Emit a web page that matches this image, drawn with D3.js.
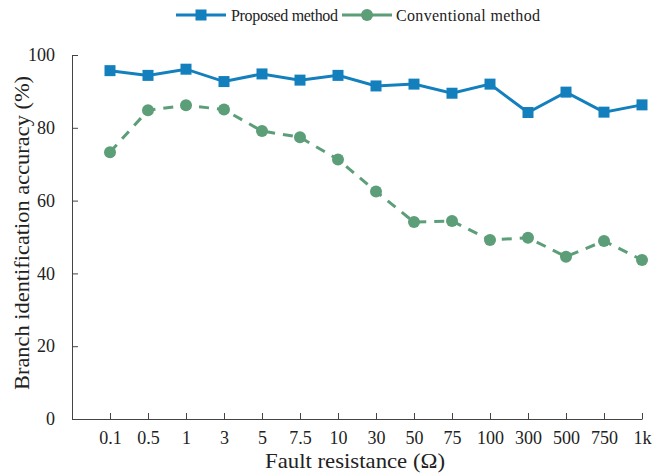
<!DOCTYPE html>
<html><head><meta charset="utf-8">
<script src="https://cdn.jsdelivr.net/npm/d3@7"></script>
<style>body{margin:0;background:#fff}svg{display:block}text{font-family:"Liberation Serif","Times New Roman",serif;fill:#222}</style>
</head><body><div id="c"></div>
<script>
const categories = ["0.1","0.5","1","3","5","7.5","10","30","50","75","100","300","500","750","1k"];
const proposed = [95.7,94.4,96.1,92.7,94.8,93.1,94.4,91.5,92.0,89.5,92.0,84.2,89.8,84.3,86.3];
const conventional = [73.3,84.8,86.2,85.0,79.1,77.4,71.3,62.5,54.1,54.4,49.2,49.8,44.6,48.9,43.7];
const yTicks = [0,20,40,60,80,100];
const seriesNames = ["Proposed method","Conventional method"];
const blue = "#1380bd", green = "#5c9e78";

const W = 652, H = 474;
const svg = d3.select("#c").append("svg").attr("width", W).attr("height", H);
const x = d3.scaleLinear().domain([-1, categories.length - 1]).range([72, 642]);
const y = d3.scaleLinear().domain([0, 100]).range([419, 55]);

// axes
const xAxis = svg.append("g").attr("transform", `translate(0,${y(0)})`)
  .call(d3.axisBottom(x).tickValues(d3.range(categories.length)).tickFormat(i => categories[i]).tickSizeInner(-6).tickSizeOuter(0).tickPadding(12));
const yAxis = svg.append("g").attr("transform", `translate(${x(-1)},0)`)
  .call(d3.axisLeft(y).tickValues(yTicks).tickSizeInner(-6).tickSizeOuter(0).tickPadding(17));
[xAxis, yAxis].forEach(g => {
  g.select(".domain").attr("stroke", "#444").attr("stroke-width", 1);
  g.selectAll(".tick line").attr("stroke", "#444");
  g.selectAll(".tick text").style("font-family", '"Liberation Serif",serif').style("font-size", "18px").attr("fill", "#222");
});

// lines
const line = d3.line().x((d, i) => x(i)).y(d => y(d));
svg.append("path").datum(conventional).attr("d", line).attr("fill", "none")
  .attr("stroke", green).attr("stroke-width", 3).attr("stroke-dasharray", "10,8");
svg.selectAll(".cpt").data(conventional).enter().append("circle")
  .attr("cx", (d, i) => x(i)).attr("cy", d => y(d)).attr("r", 6).attr("fill", green);
svg.append("path").datum(proposed).attr("d", line).attr("fill", "none")
  .attr("stroke", blue).attr("stroke-width", 3);
svg.selectAll(".ppt").data(proposed).enter().append("rect")
  .attr("x", (d, i) => x(i) - 5.5).attr("y", d => y(d) - 5.5).attr("width", 11).attr("height", 11).attr("fill", blue);

// axis titles
svg.append("text").attr("x", 355).attr("y", 468).attr("text-anchor", "middle")
  .attr("textLength", 180).attr("lengthAdjust", "spacingAndGlyphs")
  .style("font-size", "21px").text("Fault resistance (Ω)");
svg.append("text").attr("transform", "translate(29,233) rotate(-90)").attr("text-anchor", "middle")
  .attr("textLength", 314).attr("lengthAdjust", "spacingAndGlyphs")
  .style("font-size", "21px").text("Branch identification accuracy (%)");

// legend
const lg = svg.append("g");
lg.append("line").attr("x1", 176).attr("x2", 226).attr("y1", 15).attr("y2", 15).attr("stroke", blue).attr("stroke-width", 3);
lg.append("rect").attr("x", 195.5).attr("y", 9.5).attr("width", 11).attr("height", 11).attr("fill", blue);
lg.append("text").attr("x", 231).attr("y", 20.5).style("font-size", "16px")
  .attr("textLength", 107).attr("lengthAdjust", "spacing").text(seriesNames[0]);
lg.append("line").attr("x1", 342).attr("x2", 392).attr("y1", 15).attr("y2", 15).attr("stroke", green).attr("stroke-width", 3);
lg.append("circle").attr("cx", 367).attr("cy", 15).attr("r", 6).attr("fill", green);
lg.append("text").attr("x", 396).attr("y", 20.5).style("font-size", "16px")
  .attr("textLength", 144).attr("lengthAdjust", "spacing").text(seriesNames[1]);
</script></body></html>
